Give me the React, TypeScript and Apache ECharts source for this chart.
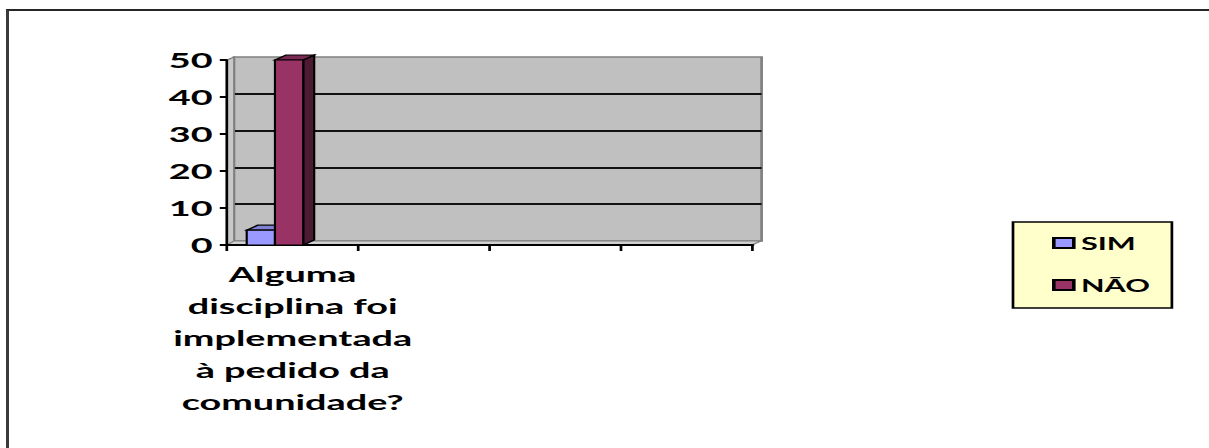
import { useEffect, useRef } from "react";
import * as echarts from "echarts";

// ---- data ----
const categories = [
  "Alguma\ndisciplina foi\nimplementada\nà pedido da\ncomunidade?",
  "",
  "",
  "",
];
const seriesNames = ["SIM", "NÃO"];
const simValues = [4];
const naoValues = [50];
const yMin = 0;
const yMax = 50;
const yInterval = 10;

// ---- layout (reference px, horizontally stretched picture) ----
const S = 1.8; // horizontal stretch of the original picture
const W = 1209 / S;
const H = 448;
const sx = (px: number) => px / S;

const FRONT = { left: sx(227), right: W - sx(752), top: 60, bottom: H - 245 };
const BACK = { left: sx(234), right: W - sx(761), top: 57, bottom: H - 241 };
const BAR_DX = sx(11);
const BAR_DY = -5;
const FONT = "Lato, 'Open Sans', sans-serif";

const colors = {
  SIM: { front: "#9999ff", top: "#7f7fd6", side: "#5c5cb8" },
  NÃO: { front: "#993366", top: "#7a2952", side: "#4d1a33" },
};

function makeRender(offsetRatio: number, c: { front: string; top: string; side: string }) {
  return (_params: any, api: any) => {
    const cat = api.value(0);
    const val = api.value(1);
    const base = api.coord([cat, 0]);
    const top = api.coord([cat, val]);
    const band = api.size([1, 0])[0];
    const w = band * 0.215;
    const x0 = base[0] + band * offsetRatio;
    const x1 = x0 + w;
    const y0 = base[1];
    const y1 = top[1];
    const stroke = { stroke: "#000", lineWidth: 1.2 };
    return {
      type: "group",
      children: [
        {
          type: "polygon",
          shape: { points: [[x1, y0], [x1 + BAR_DX, y0 + BAR_DY], [x1 + BAR_DX, y1 + BAR_DY], [x1, y1]] },
          style: { fill: c.side, ...stroke },
        },
        {
          type: "polygon",
          shape: { points: [[x0, y1], [x0 + BAR_DX, y1 + BAR_DY], [x1 + BAR_DX, y1 + BAR_DY], [x1, y1]] },
          style: { fill: c.top, ...stroke },
        },
        {
          type: "rect",
          shape: { x: x0, y: y1, width: w, height: y0 - y1 },
          style: { fill: c.front, ...stroke },
        },
      ],
    };
  };
}

export default function App() {
  const ref = useRef<HTMLDivElement>(null);
  useEffect(() => {
    document.documentElement.style.overflow = "hidden";
    document.body.style.overflow = "hidden";
    if (!ref.current) return;
    const chart = echarts.init(ref.current, null, { renderer: "svg" });
    const fl = FRONT.left, fr = W - FRONT.right, fb = H - FRONT.bottom, ft = FRONT.top;
    const bl = BACK.left, br = W - BACK.right, bb = H - BACK.bottom, bt = BACK.top;
    chart.setOption({
      animation: false,
      backgroundColor: "transparent",
      graphic: [
        {
          type: "polygon",
          z: 1,
          shape: { points: [[fl, ft], [bl, bt], [bl, bb], [fl, fb]] },
          style: { fill: "#c8c8c8", stroke: "#808080", lineWidth: 1 },
        },
        {
          type: "polygon",
          z: 1,
          shape: { points: [[fl, fb], [bl, bb], [br, bb], [fr, fb]] },
          style: { fill: "#d0d0d0", stroke: "#808080", lineWidth: 1 },
        },
      ],
      legend: {
        orient: "vertical",
        left: sx(1013),
        top: 222,
        padding: [11, sx(22), 13, sx(39)],
        itemGap: 22,
        itemWidth: sx(20),
        itemHeight: 10,
        backgroundColor: "#ffffcc",
        borderColor: "#000",
        borderWidth: 1.5,
        icon: "rect",
        textStyle: { fontFamily: FONT, fontWeight: "bold", fontSize: 17, color: "#000", lineHeight: 20, padding: [0, 0, 0, -1] },
        data: seriesNames,
      },
      grid: [
        { left: FRONT.left, right: FRONT.right, top: FRONT.top, bottom: FRONT.bottom, containLabel: false },
        {
          left: BACK.left,
          right: BACK.right,
          top: BACK.top,
          bottom: BACK.bottom,
          show: true,
          backgroundColor: "#c0c0c0",
          borderColor: "#808080",
          borderWidth: 1.5,
          containLabel: false,
        },
      ],
      xAxis: [
        {
          type: "category",
          gridIndex: 0,
          data: categories,
          z: 5,
          axisLine: { show: true, lineStyle: { color: "#000", width: 2 } },
          axisTick: { show: true, length: 6, lineStyle: { color: "#000", width: 1.5 } },
          axisLabel: {
            interval: 0,
            margin: 13,
            fontFamily: FONT,
            fontWeight: "bold",
            fontSize: 21,
            lineHeight: 32,
            color: "#000",
            align: "center",
          },
          splitLine: { show: false },
        },
        {
          type: "category",
          gridIndex: 1,
          data: categories,
          show: false,
        },
      ],
      yAxis: [
        {
          type: "value",
          gridIndex: 0,
          min: yMin,
          max: yMax,
          interval: yInterval,
          z: 5,
          axisLine: { show: true, lineStyle: { color: "#000", width: 1.5 } },
          axisTick: { show: true, length: 4, lineStyle: { color: "#000", width: 2 } },
          axisLabel: {
            margin: 8,
            fontFamily: FONT,
            fontWeight: "bold",
            fontSize: 21,
            color: "#000",
          },
          splitLine: { show: false },
        },
        {
          type: "value",
          gridIndex: 1,
          min: yMin,
          max: yMax,
          interval: yInterval,
          axisLine: { show: false },
          axisTick: { show: false },
          axisLabel: { show: false },
          splitLine: { show: true, showMinLine: false, showMaxLine: false, lineStyle: { color: "#111", width: 2 } },
        },
      ],
      series: [
        {
          name: seriesNames[0],
          type: "custom",
          xAxisIndex: 0,
          yAxisIndex: 0,
          z: 10,
          itemStyle: { color: colors.SIM.front, borderColor: "#000", borderWidth: 1 },
          renderItem: makeRender(-0.35, colors.SIM),
          encode: { x: 0, y: 1 },
          data: simValues.map((v, i) => [i, v]),
        },
        {
          name: seriesNames[1],
          type: "custom",
          xAxisIndex: 0,
          yAxisIndex: 0,
          z: 11,
          itemStyle: { color: colors["NÃO"].front, borderColor: "#000", borderWidth: 1 },
          renderItem: makeRender(-0.35 + 0.215, colors["NÃO"]),
          encode: { x: 0, y: 1 },
          data: naoValues.map((v, i) => [i, v]),
        },
      ],
    });
    return () => chart.dispose();
  }, []);
  return (
    <div
      style={{
        position: "absolute",
        left: 0,
        top: 0,
        width: 1209,
        height: H,
        overflow: "hidden",
        background: "#ffffff",
      }}
    >
      <div
        style={{
          position: "absolute",
          left: 6,
          top: 9,
          width: 1400,
          height: 600,
          borderTop: "2px solid #262626",
          borderLeft: "3px solid #3a3a3a",
          boxSizing: "border-box",
        }}
      />
      <div
        ref={ref}
        style={{
          position: "absolute",
          left: 0,
          top: 0,
          width: W,
          height: H,
          transform: `scaleX(${S})`,
          transformOrigin: "0 0",
        }}
      />
    </div>
  );
}
